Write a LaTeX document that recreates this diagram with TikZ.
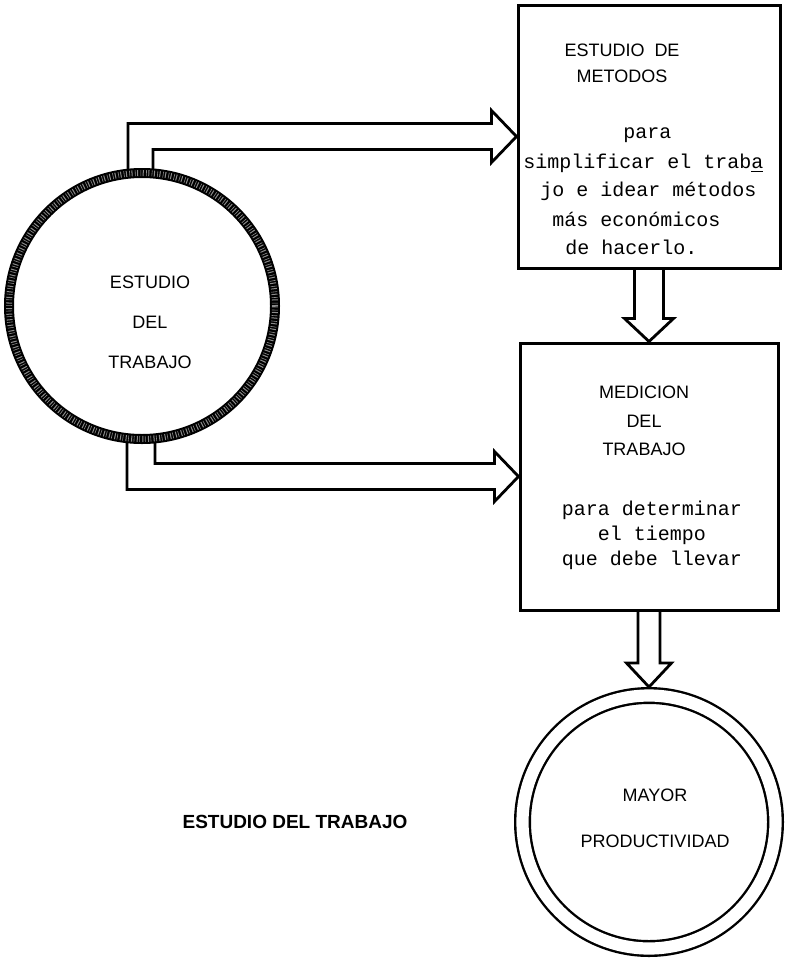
\documentclass[tikz,border=0pt]{standalone}
\usepackage{fontspec}
\setmainfont{Liberation Sans}
\setmonofont{Liberation Mono}
\usepackage{tikz}
\usetikzlibrary{calc}
\tikzstyle{box} = [rectangle, draw=black, line width=1.5pt, inner sep=0pt]
\tikzstyle{ring} = [circle, draw=black, line width=5pt, inner sep=0pt, minimum size=133pt, postaction={draw=black!45, line width=3pt, dash pattern=on 0.5pt off 0.8pt on 0.3pt off 1.2pt}]
\tikzstyle{goal} = [circle, draw=black, line width=1.2pt, double=white, double distance=6.1pt, inner sep=0pt, minimum size=126.5pt, outer sep=4.25pt]
\tikzstyle{hollow} = [draw=black, line width=1.4pt, line join=miter]
\tikzstyle{caps} = [inner sep=0pt, align=center]
\tikzstyle{typed} = [inner sep=0pt, font=\ttfamily\fontsize{10}{12}\selectfont]

\begin{document}
\begin{tikzpicture}[x=0.5pt,y=-0.5pt]
\useasboundingbox (0,0) rectangle (786,958);

\node(estudio)[ring] at (142,306) {};
\node(metodos)[box,minimum width=131pt,minimum height=131.5pt] at (649,136.5) {};
\node(medicion)[box,minimum width=129pt,minimum height=133.5pt] at (649,476.5) {};
\node(prod)[goal] at (649,822) {};

\node(estudiotxt)[caps,font=\fontsize{9}{20}\selectfont] at (150,322) {ESTUDIO\\DEL\\TRABAJO};

\node(metodostxt)[caps,font=\fontsize{9}{13}\selectfont] at (622,63) {ESTUDIO\ \ DE\\METODOS};
\node(para)[typed,anchor=west] at (623,135) {para};
\node(simpl)[typed,anchor=west] at (523,163) {simplificar el trab\underline{a}};
\node(idear)[typed,anchor=west] at (540,191) {jo e idear métodos};
\node(econ)[typed,anchor=west] at (552,219) {más económicos};
\node(hacer)[typed,anchor=west] at (565,247) {de hacerlo.};

\node(mediciontxt)[caps,font=\fontsize{9}{14.25}\selectfont] at (644,421) {MEDICION\\DEL\\TRABAJO};
\node(tiempo)[typed,align=center,font=\ttfamily\fontsize{10}{12.5}\selectfont] at (652,535) {para determinar\\el tiempo\\que debe llevar};

\node(prodtxt)[caps,font=\fontsize{9}{23}\selectfont] at (655,818) {MAYOR\\PRODUCTIVIDAD};

\node(titulo)[inner sep=0pt,font=\bfseries\fontsize{9.5}{11}\selectfont] at (295,822) {ESTUDIO DEL TRABAJO};

\draw [hollow] ($(estudio.north)+(-14,1)$) |- ($(metodos.west)+(-25,-13)$) -- ++(0,-13) -- (metodos.west) -- ++(-25,26) -- ++(0,-13) -| ($(estudio.north)+(11,1)$);

\draw [hollow] ($(estudio.south)+(-15,-1)$) |- ($(medicion.west)+(-24,13)$) -- ++(0,12) -- (medicion.west) -- ++(-24,-25) -- ++(0,12) -| ($(estudio.south)+(13,-1)$);

\draw [hollow] ($(metodos.south)+(-14.5,0)$) -- ($(medicion.north)+(-14.5,-23)$) -- ++(-10,0) -- (medicion.north) -- ++(24.5,-23) -- ++(-10,0) -- ($(metodos.south)+(14.5,0)$);

\draw [hollow] ($(medicion.south)+(-11,0)$) -- ($(prod.north)+(-11,-24)$) -- ++(-11.5,0) -- (prod.north) -- ++(22.5,-24) -- ++(-11.5,0) -- ($(medicion.south)+(11,0)$);
\end{tikzpicture}
\end{document}
